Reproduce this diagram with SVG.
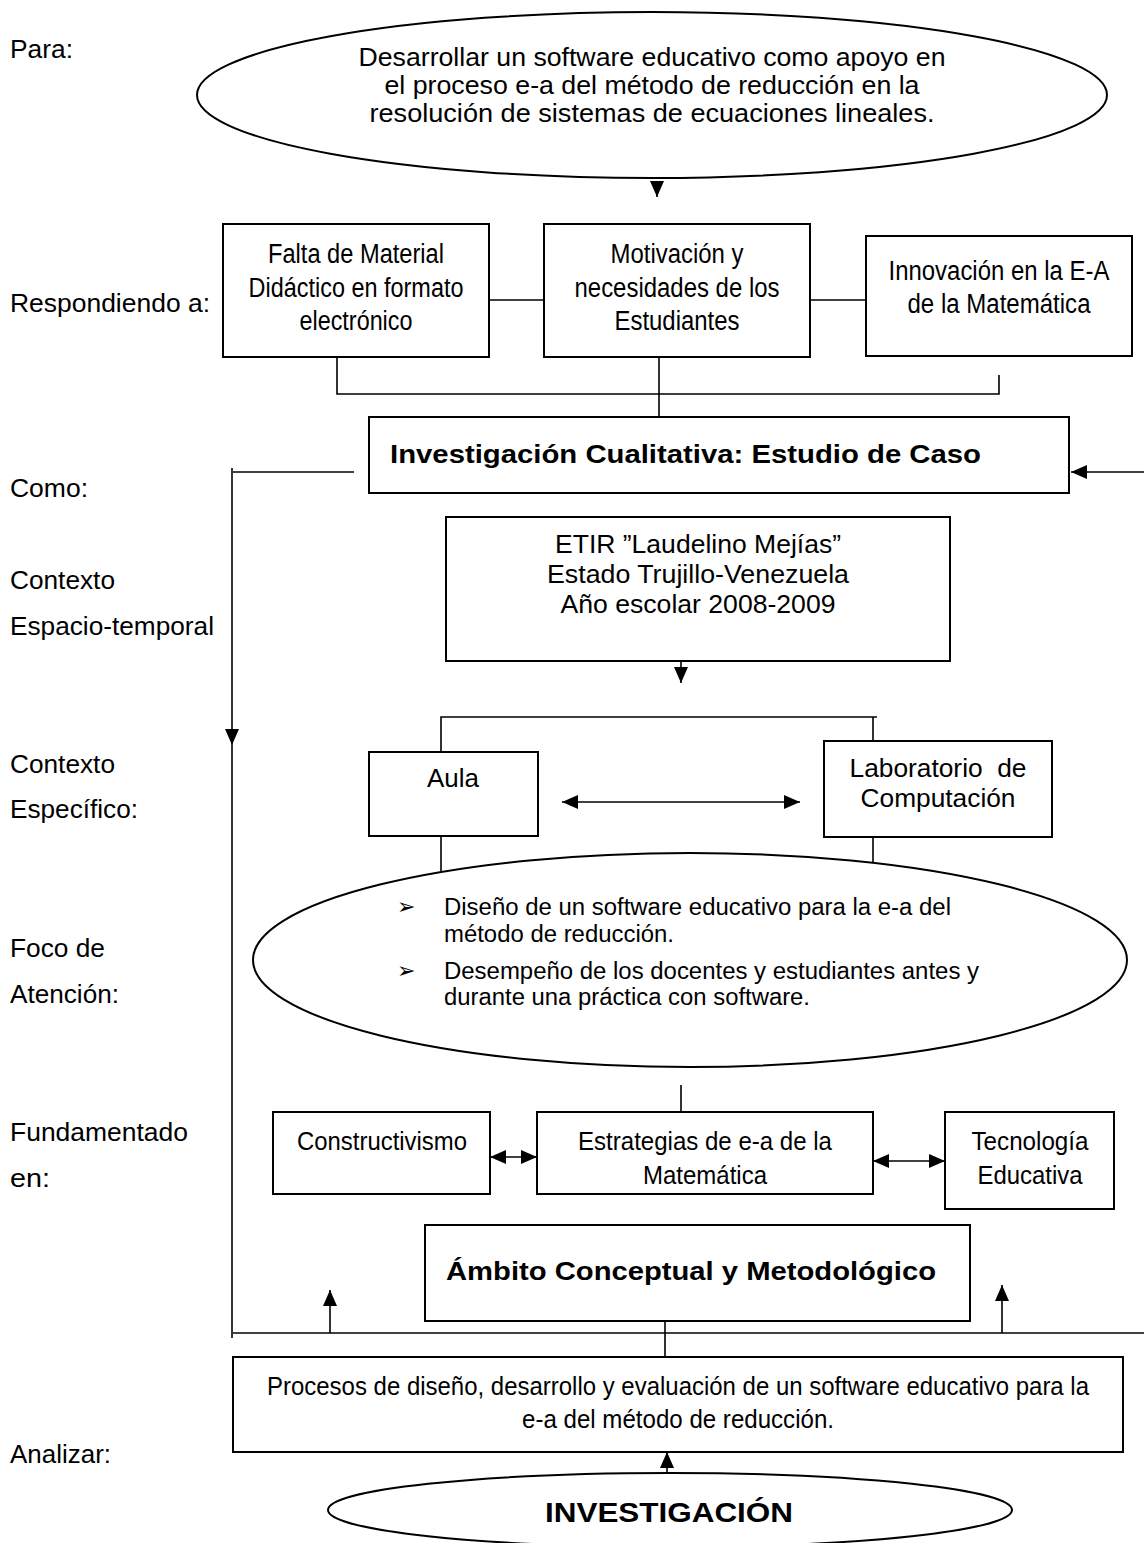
<svg xmlns="http://www.w3.org/2000/svg" width="1144" height="1543" viewBox="0 0 1144 1543">
<style>
.box{fill:#fff;stroke:#000;stroke-width:2}
.ln{fill:none;stroke:#000;stroke-width:1.6}
.t{font-family:"Liberation Sans",Arial,sans-serif;font-size:25px;fill:#000}
.n{font-size:27px}
.c{text-anchor:middle}
.b{font-weight:bold}
.bul{font-family:"DejaVu Sans",sans-serif;font-size:22px;fill:#000}
</style>
<defs>
<marker id="ah" viewBox="0 0 16 14" refX="16" refY="7" markerWidth="16" markerHeight="14" markerUnits="userSpaceOnUse" orient="auto-start-reverse"><path d="M0,0 L16,7 L0,14 z" fill="#000"/></marker>
</defs>
<rect width="1144" height="1543" fill="#fff"/>

<g id="labels" class="t">
<text x="10" y="58" textLength="63" lengthAdjust="spacingAndGlyphs">Para:</text>
<text x="10" y="312" textLength="200" lengthAdjust="spacingAndGlyphs">Respondiendo a:</text>
<text x="10" y="497" textLength="78" lengthAdjust="spacingAndGlyphs">Como:</text>
<text x="10" y="589" textLength="105" lengthAdjust="spacingAndGlyphs">Contexto</text>
<text x="10" y="635" textLength="204" lengthAdjust="spacingAndGlyphs">Espacio-temporal</text>
<text x="10" y="773" textLength="105" lengthAdjust="spacingAndGlyphs">Contexto</text>
<text x="10" y="818" textLength="128" lengthAdjust="spacingAndGlyphs">Específico:</text>
<text x="10" y="957" textLength="95" lengthAdjust="spacingAndGlyphs">Foco de</text>
<text x="10" y="1003" textLength="109" lengthAdjust="spacingAndGlyphs">Atención:</text>
<text x="10" y="1141" textLength="178" lengthAdjust="spacingAndGlyphs">Fundamentado</text>
<text x="10" y="1187" textLength="40" lengthAdjust="spacingAndGlyphs">en:</text>
<text x="10" y="1463" textLength="101" lengthAdjust="spacingAndGlyphs">Analizar:</text>
</g>

<g id="connectors" class="ln">
<path d="M657,183 V197" marker-end="url(#ah)"/>
<path d="M489,300 H544"/>
<path d="M810,300 H866"/>
<path d="M337,357 V394 H999 V375"/>
<path d="M659,357 V432" marker-end="url(#ah)"/>
<path d="M1144,472 H1071" marker-end="url(#ah)"/>
<path d="M354,472 H233"/>
<path d="M232,468 V745" marker-end="url(#ah)"/>
<path d="M232,745 V1338"/>
<path d="M681,661 V683" marker-end="url(#ah)"/>
<path d="M441,752 V717 H877"/>
<path d="M873,717 V741"/>
<path d="M562,802 H800" marker-start="url(#ah)" marker-end="url(#ah)"/>
<path d="M441,836 V871"/>
<path d="M873,837 V862"/>
<path d="M681,1085 V1112"/>
<path d="M490,1157 H537" marker-start="url(#ah)" marker-end="url(#ah)"/>
<path d="M873,1161 H945" marker-start="url(#ah)" marker-end="url(#ah)"/>
<path d="M233,1333 H1144"/>
<path d="M330,1333 V1290" marker-end="url(#ah)"/>
<path d="M1002,1333 V1285" marker-end="url(#ah)"/>
<path d="M665,1321 V1357"/>
<path d="M667,1473 V1452" marker-end="url(#ah)"/>
</g>

<g id="n-objetivo">
<ellipse class="box" cx="652" cy="95" rx="455" ry="83"/>
<g class="t c">
<text x="652" y="66" textLength="587" lengthAdjust="spacingAndGlyphs">Desarrollar un software educativo como apoyo en</text>
<text x="652" y="94" textLength="535" lengthAdjust="spacingAndGlyphs">el proceso e-a del método de reducción en la</text>
<text x="652" y="122" textLength="565" lengthAdjust="spacingAndGlyphs">resolución de sistemas de ecuaciones lineales.</text>
</g>
</g>

<g id="n-falta">
<rect class="box" x="223" y="224" width="266" height="133"/>
<g class="t n c">
<text x="356" y="263" textLength="176" lengthAdjust="spacingAndGlyphs">Falta de Material</text>
<text x="356" y="297" textLength="215" lengthAdjust="spacingAndGlyphs">Didáctico en formato</text>
<text x="356" y="330" textLength="113" lengthAdjust="spacingAndGlyphs">electrónico</text>
</g>
</g>

<g id="n-motivacion">
<rect class="box" x="544" y="224" width="266" height="133"/>
<g class="t n c">
<text x="677" y="263" textLength="133" lengthAdjust="spacingAndGlyphs">Motivación y</text>
<text x="677" y="297" textLength="205" lengthAdjust="spacingAndGlyphs">necesidades de los</text>
<text x="677" y="330" textLength="125" lengthAdjust="spacingAndGlyphs">Estudiantes</text>
</g>
</g>

<g id="n-innovacion">
<rect class="box" x="866" y="236" width="266" height="120"/>
<g class="t n c">
<text x="999" y="280" textLength="221" lengthAdjust="spacingAndGlyphs">Innovación en la E-A</text>
<text x="999" y="313" textLength="183" lengthAdjust="spacingAndGlyphs">de la Matemática</text>
</g>
</g>

<g id="n-investigacion">
<rect class="box" x="369" y="417" width="700" height="76"/>
<text class="t b" x="390" y="463" textLength="591" lengthAdjust="spacingAndGlyphs">Investigación Cualitativa: Estudio de Caso</text>
</g>

<g id="n-etir">
<rect class="box" x="446" y="517" width="504" height="144"/>
<g class="t c">
<text x="698" y="553" textLength="286" lengthAdjust="spacingAndGlyphs">ETIR ”Laudelino Mejías”</text>
<text x="698" y="583" textLength="302" lengthAdjust="spacingAndGlyphs">Estado Trujillo-Venezuela</text>
<text x="698" y="613" textLength="275" lengthAdjust="spacingAndGlyphs">Año escolar 2008-2009</text>
</g>
</g>

<g id="n-aula">
<rect class="box" x="369" y="752" width="169" height="84"/>
<text class="t c" x="453" y="787" textLength="52" lengthAdjust="spacingAndGlyphs">Aula</text>
</g>

<g id="n-lab">
<rect class="box" x="824" y="741" width="228" height="96"/>
<g class="t c">
<text x="938" y="777" textLength="177" lengthAdjust="spacingAndGlyphs" xml:space="preserve">Laboratorio  de</text>
<text x="938" y="807" textLength="155" lengthAdjust="spacingAndGlyphs">Computación</text>
</g>
</g>

<g id="n-foco">
<ellipse class="box" cx="690" cy="960" rx="437" ry="107"/>
<text class="bul" x="397" y="914">➢</text>
<text class="bul" x="397" y="978">➢</text>
<g class="t" style="font-size:23.5px">
<text x="444" y="915" textLength="507" lengthAdjust="spacingAndGlyphs">Diseño de un software educativo para la e-a del</text>
<text x="444" y="942" textLength="230" lengthAdjust="spacingAndGlyphs">método de reducción.</text>
<text x="444" y="979" textLength="535" lengthAdjust="spacingAndGlyphs">Desempeño de los docentes y estudiantes antes y</text>
<text x="444" y="1005" textLength="366" lengthAdjust="spacingAndGlyphs">durante una práctica con software.</text>
</g>
</g>

<g id="n-constructivismo">
<rect class="box" x="273" y="1112" width="217" height="82"/>
<text class="t c" style="font-size:26px" x="382" y="1150" textLength="170" lengthAdjust="spacingAndGlyphs">Constructivismo</text>
</g>

<g id="n-estrategias">
<rect class="box" x="537" y="1112" width="336" height="82"/>
<g class="t c" style="font-size:26px">
<text x="705" y="1150" textLength="254" lengthAdjust="spacingAndGlyphs">Estrategias de e-a de la</text>
<text x="705" y="1184" textLength="124" lengthAdjust="spacingAndGlyphs">Matemática</text>
</g>
</g>

<g id="n-tecnologia">
<rect class="box" x="945" y="1112" width="169" height="97"/>
<g class="t c" style="font-size:26px">
<text x="1030" y="1150" textLength="117" lengthAdjust="spacingAndGlyphs">Tecnología</text>
<text x="1030" y="1184" textLength="105" lengthAdjust="spacingAndGlyphs">Educativa</text>
</g>
</g>

<g id="n-ambito">
<rect class="box" x="425" y="1225" width="545" height="96"/>
<text class="t b" x="446" y="1280" textLength="490" lengthAdjust="spacingAndGlyphs">Ámbito Conceptual y Metodológico</text>
</g>

<g id="n-procesos">
<rect class="box" x="233" y="1357" width="890" height="95"/>
<g class="t c" style="font-size:25.5px">
<text x="678" y="1395" textLength="822" lengthAdjust="spacingAndGlyphs">Procesos de diseño, desarrollo y evaluación de un software educativo para la</text>
<text x="678" y="1428" textLength="312" lengthAdjust="spacingAndGlyphs">e-a del método de reducción.</text>
</g>
</g>

<g id="n-investigacion-final">
<ellipse class="box" cx="670" cy="1510" rx="342" ry="37"/>
<text class="t c b" x="669" y="1522" style="font-size:28px" textLength="248" lengthAdjust="spacingAndGlyphs">INVESTIGACIÓN</text>
</g>
</svg>
